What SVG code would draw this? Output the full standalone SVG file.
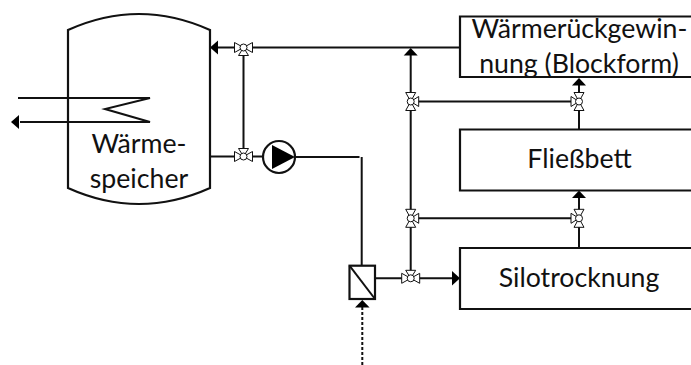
<svg xmlns="http://www.w3.org/2000/svg" width="691" height="365" viewBox="0 0 691 365">
<style>
.l{fill:none;stroke:#111;stroke-width:2}
.b{fill:none;stroke:#111;stroke-width:2.2}
.a{fill:#000;stroke:none}
.v{fill:#fff;stroke:#111;stroke-width:1}
text{font-family:Lato,"Noto Sans",sans-serif;font-size:26.7px;fill:#111;text-anchor:middle}
</style>
<defs>
<g id="hub"><circle class="v" cx="0" cy="0" r="3.5"/></g>
<path id="tH" class="v" d="M-9-5V5L0 0ZM9-5V5L0 0Z"/>
<path id="tV" class="v" d="M-5-9H5L0 0ZM-5 9H5L0 0Z"/>
</defs>
<g id="connectors">
<path class="l" d="M18 98H150L105 109L150 122H20"/>
<path class="a" d="M11 122L19 115V129Z"/>
<path class="l" d="M460 47.5H218"/><path class="a" d="M210 47.5L218 40.5V54.5Z"/>
<path class="l" d="M243.500 47.500V156.500M210 156.500H264M295 157H359.500M361.700 157V266"/>
<path class="l" d="M410.700 55V278.300M414 101.500H572M414 218.300H572"/>
<path class="a" d="M410.700 48L403.700 55.500H417.700Z"/>
<path class="l" d="M579 129.500V85"/><path class="a" d="M579 78L572 85.500H586Z"/>
<path class="l" d="M579 248V197"/><path class="a" d="M579 190.500L572 198H586Z"/>
<path class="l" d="M375 278.300H453"/><path class="a" d="M460 278.300L452 271V285.600Z"/>
<path class="l" stroke-dasharray="3 2" d="M362.300 365V307"/><path class="a" d="M362.300 300L355 307.500H369.600Z"/>
</g>
<g id="tank"><path class="b" d="M68 30Q139 -2 210 30V188Q139 220 68 188Z"/>
<text x="139" y="153">Wärme-</text><text x="139" y="188">speicher</text></g>
<g id="valve1" transform="translate(243.500 47.500)"><use href="#tH"/><path class="v" d="M-5 8H5L0 0Z"/><use href="#hub"/></g>
<g id="valve2" transform="translate(243.500 156.500)"><use href="#tH"/><path class="v" d="M-5-8H5L0 0Z"/><use href="#hub"/></g>
<g id="pump"><circle class="b" cx="279" cy="157" r="16"/><path class="a" d="M272 145L295 157L272 169Z"/></g>
<g id="hx"><rect class="b" x="349.500" y="265.700" width="25.500" height="33.300"/><path class="l" d="M349.500 265.700L375 299"/></g>
<g id="valve3" transform="translate(410.700 101.500)"><use href="#tV"/><path class="v" d="M8-5V5L0 0Z"/><use href="#hub"/></g>
<g id="valve4" transform="translate(579 101.500)"><use href="#tV"/><path class="v" d="M-8-5V5L0 0Z"/><use href="#hub"/></g>
<g id="valve5" transform="translate(410.700 218.300)"><use href="#tV"/><path class="v" d="M8-5V5L0 0Z"/><use href="#hub"/></g>
<g id="valve6" transform="translate(579 218.300)"><use href="#tV"/><path class="v" d="M-8-5V5L0 0Z"/><use href="#hub"/></g>
<g id="valve7" transform="translate(410.700 278.300)"><use href="#tH"/><path class="v" d="M-5-8H5L0 0Z"/><use href="#hub"/></g>
<g id="boxA"><path class="b" d="M691 16.500H460V77H691"/><text x="579.500" y="37.500">Wärmerückgewin-</text><text x="579" y="73">nung (Blockform)</text></g>
<g id="boxB"><path class="b" d="M691 129.500H460V190.500H691"/><text x="579.500" y="168">Fließbett</text></g>
<g id="boxC"><path class="b" d="M691 248H460V309H691"/><text x="579" y="287">Silotrocknung</text></g>
</svg>
